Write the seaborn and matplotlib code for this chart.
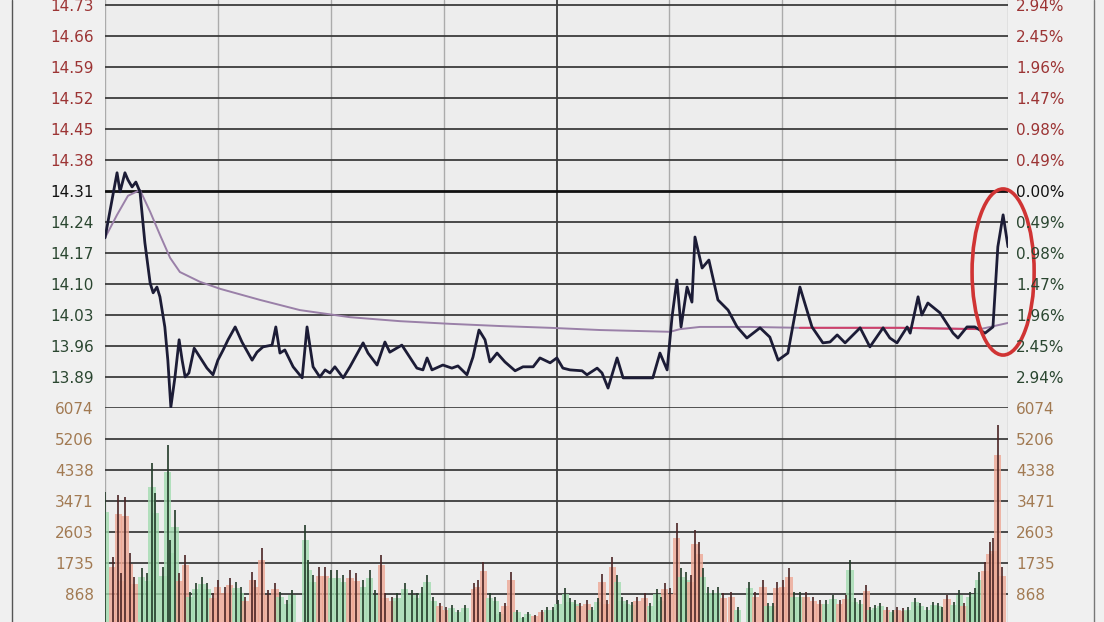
import numpy as np
import pandas as pd
import matplotlib
matplotlib.use('Agg')
from matplotlib import pyplot as plt
from matplotlib.patches import Ellipse
from matplotlib.lines import Line2D
import seaborn as sns

# intraday price path (minute, price)
price_min = [0, 3.2, 4.0, 5.3, 6.1, 7.2, 8.2, 9.3, 10.6, 12.0, 12.8, 13.8, 14.6, 15.9, 16.7, 17.5,
             18.6, 19.7, 20.5, 21.3, 22.3, 23.7, 25.2, 27.1, 28.7, 30.0, 31.4, 32.7, 34.6, 36.4,
             39.1, 40.4, 42.0, 44.4, 45.4, 46.5, 47.8, 50.0, 52.4, 53.7, 55.3, 57.1, 58.5, 59.8,
             61.1, 63.3, 65.1, 68.6, 69.9, 72.3, 74.4, 75.7, 78.9, 82.9, 84.5, 85.6, 86.9, 89.8,
             92.2, 93.8, 96.2, 97.8, 99.4, 101.0, 102.3, 104.2, 106.3, 109.0, 111.1, 113.8, 115.6,
             118.3, 120.1, 121.7, 123.6, 126.8, 128.1, 130.8, 132.1, 133.7, 136.1, 137.7, 141.4,
             145.6, 147.5, 149.4, 150.7, 152.0, 153.1, 154.7, 156.0, 156.8, 158.7, 160.5, 162.9,
             165.6, 168.0, 170.6, 174.1, 176.7, 178.9, 181.5, 184.7, 187.9, 190.8, 192.7, 194.6,
             196.7, 200.7, 203.3, 206.8, 208.6, 210.5, 213.2, 214.0, 216.1, 217.1, 218.7, 221.9,
             225.4, 226.7, 229.1, 231.2, 233.9, 236.0, 237.3, 238.7, 240.0]
price_val = [14.204, 14.351, 14.308, 14.351, 14.335, 14.319, 14.330, 14.308, 14.193, 14.102, 14.080,
             14.093, 14.071, 14.003, 13.928, 13.822, 13.890, 13.974, 13.928, 13.890, 13.899, 13.955,
             13.935, 13.910, 13.895, 13.928, 13.951, 13.974, 14.003, 13.969, 13.928, 13.946, 13.958,
             13.962, 14.003, 13.944, 13.951, 13.913, 13.888, 14.003, 13.913, 13.890, 13.906, 13.899,
             13.913, 13.888, 13.913, 13.967, 13.944, 13.917, 13.969, 13.946, 13.962, 13.910, 13.906,
             13.933, 13.906, 13.917, 13.910, 13.915, 13.895, 13.935, 13.996, 13.974, 13.924, 13.944,
             13.924, 13.904, 13.913, 13.913, 13.933, 13.922, 13.933, 13.910, 13.906, 13.904, 13.895,
             13.910, 13.899, 13.865, 13.933, 13.888, 13.888, 13.888, 13.944, 13.906, 14.025, 14.109,
             14.003, 14.093, 14.059, 14.206, 14.136, 14.154, 14.064, 14.041, 14.003, 13.978, 14.001,
             13.980, 13.928, 13.944, 14.093, 14.003, 13.967, 13.969, 13.985, 13.967, 14.001, 13.958,
             14.001, 13.978, 13.967, 14.003, 13.989, 14.071, 14.030, 14.057, 14.035, 13.989, 13.978,
             14.003, 14.003, 13.989, 14.003, 14.184, 14.256, 14.184]

# average price line
avg_min = [0, 3.2, 6.1, 9.3, 12.0, 14.6, 17.3, 19.9, 25.2, 30.6, 41.2, 51.8, 65.1, 78.4, 91.7,
           105.0, 118.3, 131.6, 150.2, 152.8, 158.1, 171.4, 184.7, 211.3, 232.6, 240.0]
avg_val = [14.204, 14.256, 14.299, 14.312, 14.263, 14.211, 14.159, 14.127, 14.105, 14.089, 14.064,
           14.041, 14.025, 14.016, 14.010, 14.005, 14.001, 13.996, 13.992, 13.998, 14.003, 14.003,
           14.001, 14.001, 13.998, 14.012]
avg_red_from, avg_red_to = 184.7, 232.6

# volume bars (minute, volume, up/down)
vol_min = [0.0, 2.1, 3.5, 4.3, 5.3, 6.6, 7.7, 9.8, 11.2, 12.5, 13.3, 15.4, 16.7, 17.3, 18.6, 19.7,
           21.3, 22.6, 24.2, 25.8, 27.1, 28.7, 30.0, 31.9, 33.2, 34.8, 36.1, 37.2, 39.1, 39.9, 41.7,
           43.3, 45.2, 46.5, 48.4, 49.7, 53.2, 54.0, 55.3, 56.9, 58.5, 60.1, 61.7, 63.3, 65.1, 66.7,
           68.6, 70.4, 71.8, 73.4, 74.4, 76.3, 77.6, 79.7, 81.6, 82.9, 84.3, 85.6, 87.2, 89.0, 90.6,
           92.2, 93.8, 95.7, 98.1, 99.1, 100.5, 102.3, 103.7, 105.0, 106.3, 107.9, 109.5, 111.1,
           112.4, 114.3, 116.1, 117.5, 119.1, 120.4, 122.3, 123.6, 124.9, 126.2, 128.1, 129.4,
           131.0, 132.1, 133.4, 134.8, 136.1, 137.4, 138.7, 140.1, 141.4, 143.5, 144.9, 146.7,
           147.8, 148.8, 150.2, 152.0, 153.1, 154.4, 155.7, 156.8, 157.9, 158.9, 160.3, 161.6,
           162.9, 164.3, 166.4, 168.2, 171.2, 172.8, 174.9, 176.2, 177.5, 178.6, 180.2, 181.8,
           183.1, 184.7, 186.3, 188.2, 190.0, 191.6, 193.5, 195.3, 196.9, 198.0, 199.3, 200.7,
           202.3, 203.3, 204.7, 206.0, 207.8, 209.4, 210.5, 212.1, 213.4, 215.3, 216.6, 218.5,
           220.1, 221.4, 222.5, 223.8, 225.6, 227.0, 228.3, 229.9, 231.2, 232.3, 233.9, 235.2,
           236.0, 237.3, 238.4]
vol_val = [3724, 1904, 3640, 1456, 3584, 2016, 1344, 1596, 1456, 4536, 3696, 1624, 5040, 2380, 3220,
           1456, 1960, 924, 1176, 1344, 1176, 896, 1260, 1064, 1316, 1204, 1064, 784, 1484, 1260,
           2156, 980, 1176, 924, 700, 980, 2800, 1820, 1400, 1624, 1624, 1540, 1540, 1400, 1540,
           1456, 1260, 1540, 980, 1960, 896, 784, 896, 1176, 980, 896, 1064, 1400, 784, 616, 504,
           560, 420, 560, 1176, 1260, 1764, 896, 784, 364, 616, 1484, 420, 224, 364, 280, 420, 504,
           504, 700, 1036, 756, 700, 616, 700, 504, 756, 1428, 700, 1904, 1400, 784, 700, 644, 784,
           896, 616, 1008, 784, 1176, 1036, 2856, 1596, 1484, 1400, 2660, 2324, 1596, 1064, 980,
           1064, 896, 924, 504, 1204, 924, 1260, 616, 616, 1204, 1260, 1596, 924, 924, 924, 784,
           700, 700, 840, 700, 840, 1820, 756, 700, 1120, 504, 560, 616, 504, 420, 504, 476, 504,
           756, 616, 504, 644, 616, 504, 840, 644, 980, 616, 924, 1036, 1484, 1764, 2324, 2436,
           5600, 1624]
vol_dir = list('grrrrrrggggggggrrggggrrrrggrrrrrrggggggrrgggrrgggrrrgggggggrrggg'
               'rrrgggrrgggrrggggggrrggrrrggggrrggg'
               'rrrggrrrggggrrggrrggrrrggrrrggrrgg'
               'grgggrgrrgggggggrggrgggrrrrr')

price_ticks = [14.73, 14.66, 14.59, 14.52, 14.45, 14.38, 14.31, 14.24, 14.17, 14.10, 14.03, 13.96, 13.89]
pct_labels = ['2.94%', '2.45%', '1.96%', '1.47%', '0.98%', '0.49%', '0.00%',
              '0.49%', '0.98%', '1.47%', '1.96%', '2.45%', '2.94%']
prev_close = 14.31
vol_ticks = [868, 1735, 2603, 3471, 4338, 5206, 6074]

RED_TXT, GREEN_TXT, VOL_TXT = '#9c3434', '#2a4630', '#a27a52'

sns.set_theme(style='white')
plt.rcParams['font.family'] = ['DejaVu Sans']

fig = plt.figure(figsize=(11.04, 6.22), dpi=100, facecolor='#f0f0f0')
L, W = 105 / 1104, 903 / 1104
split = 1 - 408 / 622
ax = fig.add_axes([L, split, W, 1 - split])
axv = fig.add_axes([L, 0, W, split])

for a in (ax, axv):
    a.set_facecolor('#ededed')
    a.set_xlim(0, 240)
    for s in a.spines.values():
        s.set_visible(False)
    for m in [0, 30, 60, 90, 120, 150, 180, 210, 240]:
        a.axvline(m, color='#3a3a3a' if m == 120 else '#ababab', lw=1.3 if m == 120 else 1.0, zorder=1)
    a.set_xticks([])

# price panel
ax.set_ylim(13.82, 14.741)
for t in price_ticks:
    ax.axhline(t, color='#111111' if t == prev_close else '#3c3c3c',
               lw=2.0 if t == prev_close else 1.3, zorder=1)
ax.axhline(13.82, color='#222222', lw=1.8, zorder=1)

df_p = pd.DataFrame({'minute': price_min, 'price': price_val})
df_a = pd.DataFrame({'minute': avg_min, 'price': avg_val})
sns.lineplot(data=df_a, x='minute', y='price', ax=ax, color='#9a80a8', lw=1.4, estimator=None, zorder=3)
seg = df_a[(df_a.minute >= avg_red_from) & (df_a.minute <= avg_red_to)]
sns.lineplot(data=seg, x='minute', y='price', ax=ax, color='#d0406a', lw=1.4, estimator=None, zorder=3)
sns.lineplot(data=df_p, x='minute', y='price', ax=ax, color='#1c1c36', lw=2.0, estimator=None, zorder=4)
ax.set_xlabel('')
ax.set_ylabel('')

lab_cols = [RED_TXT if t > prev_close else ('#111111' if t == prev_close else GREEN_TXT) for t in price_ticks]
ax.set_yticks(price_ticks)
ax.set_yticklabels([f'{t:.2f}' for t in price_ticks])
ax.tick_params(axis='y', length=0, pad=8, labelsize=11)
for lbl, c in zip(ax.get_yticklabels(), lab_cols):
    lbl.set_color(c)

axr = ax.twinx()
axr.set_ylim(ax.get_ylim())
axr.set_yticks(price_ticks)
axr.set_yticklabels(pct_labels)
axr.tick_params(axis='y', length=0, pad=6, labelsize=11)
for s in axr.spines.values():
    s.set_visible(False)
for lbl, c in zip(axr.get_yticklabels(), lab_cols):
    lbl.set_color(c)

# red ellipse around the late spike
ax.add_patch(Ellipse((238.7, 14.127), 16.5, 0.375, fill=False, ec='#d03434', lw=2.6,
                     clip_on=False, zorder=5))

# volume panel
axv.set_ylim(84, 6074)
for t in vol_ticks[:-1]:
    axv.axhline(t, color='#3c3c3c', lw=1.3, zorder=1)
df_v = pd.DataFrame({'minute': vol_min, 'vol': vol_val, 'dir': vol_dir})
pastel = df_v['dir'].map({'r': '#eea894', 'g': '#a2dcb0'})
dark = df_v['dir'].map({'r': '#4a2424', 'g': '#223a28'})
axv.bar(df_v['minute'], df_v['vol'] * 0.85, width=1.9, color=pastel, alpha=0.8, lw=0, zorder=2)
axv.vlines(df_v['minute'], 0, df_v['vol'], colors=dark, lw=1.2, zorder=3)
axv.set_yticks(vol_ticks)
axv.set_yticklabels([str(v) for v in vol_ticks])
axv.tick_params(axis='y', length=0, pad=8, labelsize=11, labelcolor=VOL_TXT)
axvr = axv.twinx()
axvr.set_ylim(axv.get_ylim())
axvr.set_yticks(vol_ticks)
axvr.set_yticklabels([str(v) for v in vol_ticks])
axvr.tick_params(axis='y', length=0, pad=6, labelsize=11, labelcolor=VOL_TXT)
for s in axvr.spines.values():
    s.set_visible(False)

# outer frame lines
fig.add_artist(Line2D([12 / 1104] * 2, [0, 1], color='#555555', lw=1.0))
fig.add_artist(Line2D([1094 / 1104] * 2, [0, 1], color='#777777', lw=1.0))

fig.savefig('out.png', dpi=100, facecolor=fig.get_facecolor())
